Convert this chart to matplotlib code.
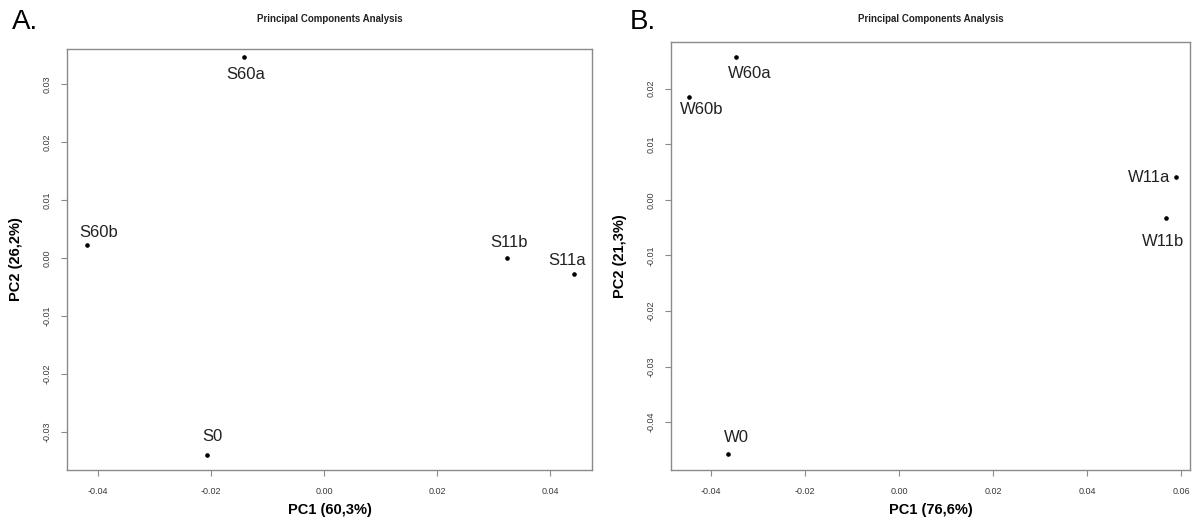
import matplotlib
matplotlib.use("Agg")
import matplotlib.pyplot as plt

plt.rcParams['font.family'] = ['Liberation Sans', 'DejaVu Sans']

# Panel A: S samples
a_names = ["S60a", "S60b", "S11b", "S11a", "S0"]
a_pc1 = [-0.0142, -0.0419, 0.0324, 0.0442, -0.0207]
a_pc2 = [0.0347, 0.0022, 0.0000, -0.0028, -0.0340]
a_xlabel = "PC1 (60,3%)"
a_ylabel = "PC2 (26,2%)"
a_xticks = [-0.04, -0.02, 0.00, 0.02, 0.04]
a_yticks = [-0.03, -0.02, -0.01, 0.00, 0.01, 0.02, 0.03]

# Panel B: W samples
b_names = ["W60a", "W60b", "W11a", "W11b", "W0"]
b_pc1 = [-0.0347, -0.0447, 0.0589, 0.0568, -0.0364]
b_pc2 = [0.0257, 0.0185, 0.0041, -0.0032, -0.0457]
b_xlabel = "PC1 (76,6%)"
b_ylabel = "PC2 (21,3%)"
b_xticks = [-0.04, -0.02, 0.00, 0.02, 0.04, 0.06]
b_yticks = [-0.04, -0.03, -0.02, -0.01, 0.00, 0.01, 0.02]

title = "Principal Components Analysis"

# label offsets (points) relative to each point
a_offsets = [(1, -13), (8, 9), (1, 11), (-5, 10), (4, 13)]
b_offsets = [(10, -12), (9, -9), (-19, 0), (-2, -17), (6, 12)]

W, H = 1194, 521
fig = plt.figure(figsize=(W / 100, H / 100), dpi=100)

frame_col = "#8a8a8a"
tick_col = "#3a3a3a"


def panel(rect, names, xs, ys, offsets, xlim, ylim, xticks, yticks,
          xlabel, ylabel, letter, letter_x):
    ax = fig.add_axes(rect)
    ax.plot(xs, ys, 'o', color='black', markersize=2.3, linestyle='none')
    for n, x, y, (dx, dy) in zip(names, xs, ys, offsets):
        ax.annotate(n, (x, y), xytext=(dx, dy), textcoords='offset points',
                    ha='center', va='center', fontsize=12, color='#222222')
    ax.set_xlim(*xlim)
    ax.set_ylim(*ylim)
    ax.set_xticks(xticks)
    ax.set_yticks(yticks)
    ax.set_xticklabels([f"{t:.2f}" for t in xticks])
    ax.set_yticklabels([f"{t:.2f}" for t in yticks], rotation=90, va='center')
    ax.tick_params(axis='both', direction='out', length=4, width=0.8,
                   color=frame_col, labelsize=6.5, labelcolor=tick_col)
    ax.tick_params(axis='x', pad=8)
    ax.tick_params(axis='y', pad=7)
    for s in ax.spines.values():
        s.set_color(frame_col)
        s.set_linewidth(1.0)
    ax.set_xlabel(xlabel, fontsize=10.5, fontweight='bold', labelpad=5)
    ax.set_ylabel(ylabel, fontsize=10.5, fontweight='bold', labelpad=14)
    cx = rect[0] + rect[2] / 2
    fig.text(cx, 1 - 19 / H, title, ha='center', va='center',
             fontsize=7, fontweight='bold', color='#222222')
    fig.text(letter_x, 1 - 22 / H, letter, ha='left', va='center',
             fontsize=20, color='black')
    return ax


panel([67 / W, 1 - 470 / H, (592 - 67) / W, (470 - 49) / H],
      a_names, a_pc1, a_pc2, a_offsets,
      (-0.0455, 0.0474), (-0.0366, 0.0360), a_xticks, a_yticks,
      a_xlabel, a_ylabel, "A.", 12 / W)

panel([671 / W, 1 - 470 / H, (1190 - 671) / W, (470 - 42) / H],
      b_names, b_pc1, b_pc2, b_offsets,
      (-0.0485, 0.0619), (-0.0486, 0.0284), b_xticks, b_yticks,
      b_xlabel, b_ylabel, "B.", 630 / W)

fig.savefig("out.png", dpi=100)
